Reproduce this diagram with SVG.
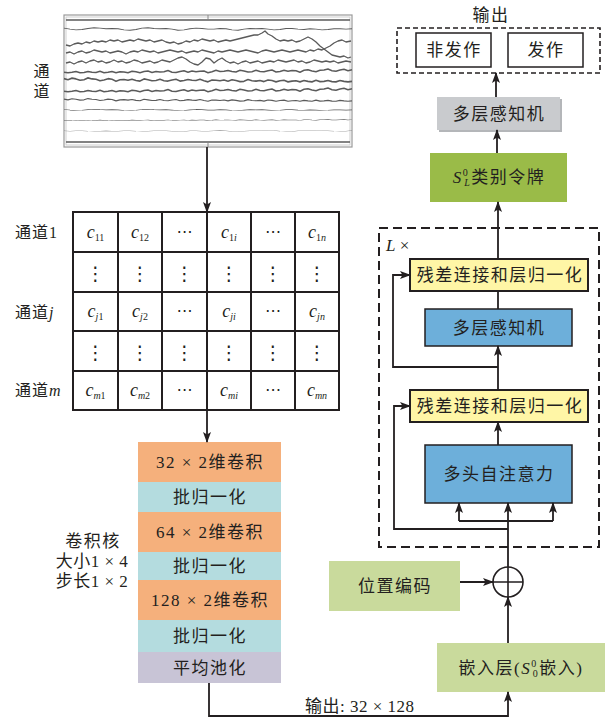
<svg xmlns="http://www.w3.org/2000/svg" xmlns:xlink="http://www.w3.org/1999/xlink" width="609" height="719" viewBox="0 0 609 719">
<defs>
<style>
.t{font-family:"Liberation Serif","Noto Sans CJK SC",serif;font-size:17px;fill:#231f20;letter-spacing:1.5px}
.tm{text-anchor:middle}
.lab{font-family:"Liberation Serif","Noto Sans CJK SC",serif;font-size:16px;fill:#231f20;letter-spacing:1px}
.cell{font-family:"Liberation Serif",serif;font-size:18px;fill:#231f20;text-anchor:middle}
.it{font-style:italic}
.sub{font-size:10px}
.dots{font-family:"DejaVu Sans",sans-serif;font-size:16px;fill:#231f20;text-anchor:middle}
.vd{font-family:"DejaVu Sans",sans-serif;font-size:19px;fill:#231f20;text-anchor:middle}
.ln{fill:none;stroke:#231f20;stroke-width:1.8}
.arr{fill:none;stroke:#231f20;stroke-width:1.8;marker-end:url(#ah)}
.eeg{fill:none;stroke:#5a5a5a;stroke-width:1.3;stroke-linejoin:round;vector-effect:non-scaling-stroke}
.grid{fill:#fff;stroke:#231f20;stroke-width:2}
.conv{fill:#F5B07C}
.bn{fill:#B4DCDF}
.pool{fill:#C8C4D6}
.lg{fill:#C9DA9C}
.res{fill:#FFF6A6;stroke:#231f20;stroke-width:2}
.blue{fill:#6DAFDA;stroke:#231f20;stroke-width:1.5}
.ob{fill:#fff;stroke:#231f20;stroke-width:1.5}
</style>
<marker id="ah" markerUnits="userSpaceOnUse" markerWidth="11" markerHeight="8" refX="10" refY="4" orient="auto">
<path d="M0,0 L11,4 L0,8 L2.5,4 z" fill="#231f20"/>
</marker>
<path id="n1" d="M0,-1 l4,0.8 4,-1.2 4,0.6 4,1 4,-0.4 4,-1.4 4,0.8 4,0.2 4,1.2 4,-0.6 4,-1 4,0.4 4,1.6 4,-1.2 4,-0.2 4,0.6 4,-0.8 4,1 4,0.4 4,-1.6 4,0.6 4,0.8 4,-0.2 4,-1 4,1.2 4,0.2 4,-0.8 4,-0.6 4,1.4 4,-0.4 4,-0.8 4,0.6 4,0.2 4,-1 4,1.2 4,0.8 4,-1.4 4,0.2 4,0.4 4,-0.6 4,1 4,-1.2 4,0.6 4,0.8 4,-0.2 4,-1.4 4,1 4,0.2 4,-0.4 4,0.8 4,-1.2 4,0.4 4,1 4,-0.8 4,-0.4 4,1.2 4,-0.6 4,-0.2 4,0.8 4,-1 4,0.6 4,0.4 4,-1.2 4,1 4,-0.2 4,-0.6 4,0.8 4,0.2 4,-1 4,0.6 4,0.4 4,-0.4"/>
<path id="n2" d="M0,-1.3 l6,1.5 6,1 6,-0.5 6,-1.5 6,-1 6,0.5 6,1 6,-0.5 6,0.5 6,1.5 6,0.5 6,-1 6,-2 6,-0.5 6,1 6,0.5 6,-0.5 6,1 6,1.5 6,-0.5 6,-1.5 6,-1 6,0.5 6,1 6,0 6,-1 6,0.5 6,1.5 6,0.5 6,-1.5 6,-1 6,0.5 6,-0.5 6,1 6,1 6,-0.5 6,-1.5 6,0 6,1 6,0.5 6,-1 6,0.5 6,1 6,-0.5 6,-1 6,0 6,0.5 6,-0.5"/>
</defs>
<rect width="609" height="719" fill="#fff"/>

<g id="eeg">
<rect x="64" y="15" width="288" height="132" fill="#fff" stroke="#9a9a9a" stroke-width="1.2"/>
<rect x="66" y="17" width="284" height="128" fill="none" stroke="#c4c4c4" stroke-width="0.8"/>
<path d="M208,15 V19 M208,143 V147" stroke="#8a8a8a" stroke-width="1"/>
<path class="eeg" d="M66,20 L350,20"/>
<use href="#n2" transform="translate(64,29) scale(1,0.7)" class="eeg"/>
<polyline class="eeg" points="66,45 70,46 74,44 78,43 82,44 86,42 90,43 94,41 98,42 102,41 106,42 110,40 114,41 118,40 122,42 126,41 130,40 134,41 138,39 142,40 146,41 150,40 154,42 158,41 162,40 166,42 170,43 174,42 178,44 182,43 186,41 190,42 194,40 198,41 202,39 206,40 210,41 214,40 218,42 222,41 226,40 230,41 234,40 238,39 242,38 246,37 250,36 254,35 258,35 262,33 265,31 268,34 272,36 276,39 280,41 284,40 288,41 292,40 296,42 300,41 304,39 308,37 312,39 316,42 320,46 324,49 328,52 332,55 336,56 340,57 344,56 348,58 351,57"/>
<polyline class="eeg" points="66,53 70,52 74,54 78,52 82,51 86,53 90,52 94,50 98,51 102,52 106,51 110,53 114,52 118,51 122,52 126,54 130,52 134,51 138,52 142,50 146,51 150,52 154,51 158,53 162,52 166,51 170,50 174,51 178,52 182,51 186,53 190,52 194,51 198,52 202,50 206,51 210,52 214,53 218,51 222,52 226,51 230,50 234,51 238,52 242,51 246,50 250,51 254,52 258,53 262,51 266,50 270,51 274,52 278,51 282,50 286,51 290,52 294,51 298,50 302,51 306,52 310,50 314,51 318,49 322,50 326,48 330,46 334,43 338,41 342,40 346,42 351,41"/>
<polyline class="eeg" points="66,63 70,62 74,64 78,62 82,61 86,63 90,61 94,60 98,62 102,61 106,63 110,62 114,60 118,62 122,61 126,63 130,62 134,60 138,61 142,63 146,62 150,61 154,63 158,62 162,60 166,61 170,62 174,60 178,58 182,57 186,59 190,62 194,64 198,65 202,62 206,58 210,59 214,63 218,60 222,58 226,61 230,63 234,62 238,64 242,62 246,61 250,63 254,62 258,61 262,63 266,62 270,61 274,62 278,60 282,61 286,62 290,61 294,60 298,62 302,61 306,63 310,62 314,60 318,61 322,62 326,61 330,62 334,61 338,63 342,62 346,61 351,62"/>
<use href="#n1" transform="translate(352,71) scale(-1,1.2)" class="eeg"/>
<use href="#n1" transform="translate(64,80) scale(1,1.3)" class="eeg"/>
<use href="#n1" transform="translate(352,90) scale(-1,1.2)" class="eeg"/>
<use href="#n1" transform="translate(64,100) scale(1,0.9)" class="eeg"/>
<use href="#n2" transform="translate(64,110) scale(1,0.45)" class="eeg"/>
<use href="#n1" transform="translate(352,120) scale(-1,0.35)" class="eeg"/>
<use href="#n2" transform="translate(352,131) scale(-1,0.25)" class="eeg"/>
<path class="eeg" d="M66,142 L350,142"/>
</g>
<g id="eeg-label">
<text class="lab tm" x="42" y="77">通</text>
<text class="lab tm" x="42" y="97">道</text>
</g>

<g id="matrix">
<rect class="grid" x="73" y="212" width="266" height="198"/>
<path class="ln" style="stroke-width:2" d="M118,212 V410 M162,212 V410 M207,212 V410 M251,212 V410 M295,212 V410 M73,252 H339 M73,292 H339 M73,331 H339 M73,371 H339"/>
<text class="lab" x="15" y="238">通道1</text>
<text class="lab" x="15" y="318">通道<tspan class="it" font-family="Liberation Serif">j</tspan></text>
<text class="lab" x="15" y="396">通道<tspan class="it" font-family="Liberation Serif">m</tspan></text>
<g id="row1">
<text class="cell" x="95.5" y="238"><tspan class="it">c</tspan><tspan class="sub" dy="3">11</tspan></text>
<text class="cell" x="140" y="238"><tspan class="it">c</tspan><tspan class="sub" dy="3">12</tspan></text>
<text class="dots" x="184.5" y="237">⋯</text>
<text class="cell" x="229" y="238"><tspan class="it">c</tspan><tspan class="sub" dy="3">1</tspan><tspan class="sub it">i</tspan></text>
<text class="dots" x="273" y="237">⋯</text>
<text class="cell" x="317" y="238"><tspan class="it">c</tspan><tspan class="sub" dy="3">1</tspan><tspan class="sub it">n</tspan></text>
</g>
<g id="row2">
<text class="vd" x="95.5" y="280">⋮</text>
<text class="vd" x="140" y="280">⋮</text>
<text class="vd" x="184.5" y="280">⋮</text>
<text class="vd" x="229" y="280">⋮</text>
<text class="vd" x="273" y="280">⋮</text>
<text class="vd" x="317" y="280">⋮</text>
</g>
<g id="row3">
<text class="cell" x="95.5" y="317"><tspan class="it">c</tspan><tspan class="sub it" dy="3">j</tspan><tspan class="sub">1</tspan></text>
<text class="cell" x="140" y="317"><tspan class="it">c</tspan><tspan class="sub it" dy="3">j</tspan><tspan class="sub">2</tspan></text>
<text class="dots" x="184.5" y="316">⋯</text>
<text class="cell" x="229" y="317"><tspan class="it">c</tspan><tspan class="sub it" dy="3">ji</tspan></text>
<text class="dots" x="273" y="316">⋯</text>
<text class="cell" x="317" y="317"><tspan class="it">c</tspan><tspan class="sub it" dy="3">jn</tspan></text>
</g>
<g id="row4">
<text class="vd" x="95.5" y="359">⋮</text>
<text class="vd" x="140" y="359">⋮</text>
<text class="vd" x="184.5" y="359">⋮</text>
<text class="vd" x="229" y="359">⋮</text>
<text class="vd" x="273" y="359">⋮</text>
<text class="vd" x="317" y="359">⋮</text>
</g>
<g id="row5">
<text class="cell" x="95.5" y="396"><tspan class="it">c</tspan><tspan class="sub it" dy="3">m</tspan><tspan class="sub">1</tspan></text>
<text class="cell" x="140" y="396"><tspan class="it">c</tspan><tspan class="sub it" dy="3">m</tspan><tspan class="sub">2</tspan></text>
<text class="dots" x="184.5" y="395">⋯</text>
<text class="cell" x="229" y="396"><tspan class="it">c</tspan><tspan class="sub it" dy="3">mi</tspan></text>
<text class="dots" x="273" y="395">⋯</text>
<text class="cell" x="317" y="396"><tspan class="it">c</tspan><tspan class="sub it" dy="3">mn</tspan></text>
</g>
</g>

<g id="cnn">
<rect class="conv" x="138" y="442" width="143" height="40"/>
<rect class="bn" x="138" y="482" width="143" height="30"/>
<rect class="conv" x="138" y="512" width="143" height="40"/>
<rect class="bn" x="138" y="552" width="143" height="28"/>
<rect class="conv" x="138" y="580" width="143" height="40"/>
<rect class="bn" x="138" y="620" width="143" height="32"/>
<rect class="pool" x="138" y="652" width="143" height="31"/>
<text class="t tm" x="210" y="468">32 × 2维卷积</text>
<text class="t tm" x="210" y="503">批归一化</text>
<text class="t tm" x="210" y="538">64 × 2维卷积</text>
<text class="t tm" x="210" y="572">批归一化</text>
<text class="t tm" x="210" y="606">128 × 2维卷积</text>
<text class="t tm" x="210" y="642">批归一化</text>
<text class="t tm" x="210" y="674">平均池化</text>
</g>
<g id="cnn-label">
<text class="t tm" x="93" y="547">卷积核</text>
<text class="t tm" x="92" y="567" style="letter-spacing:0.5px">大小1 × 4</text>
<text class="t tm" x="92" y="587" style="letter-spacing:0.5px">步长1 × 2</text>
</g>

<g id="embed">
<rect class="lg" x="437" y="643" width="168" height="49"/>
<text class="t tm" x="521" y="674">嵌入层(<tspan class="it">S</tspan><tspan class="sub" dy="-7">0</tspan><tspan class="sub" dx="-5" dy="10">0</tspan><tspan dy="-3">嵌入)</tspan></text>
</g>
<g id="posenc">
<rect class="lg" x="329" y="561" width="131" height="50"/>
<text class="t tm" x="395" y="592">位置编码</text>
</g>
<g id="add">
<circle cx="508" cy="582" r="15" fill="#fff" stroke="#231f20" stroke-width="1.6"/>
<path d="M493,582 H523 M508,567 V597" stroke="#231f20" stroke-width="1.6"/>
</g>
<g id="out-label">
<text class="t" x="305" y="712" style="letter-spacing:0.5px">输出: 32 × 128</text>
</g>

<g id="transformer">
<rect x="379" y="228" width="220" height="319" fill="none" stroke="#231f20" stroke-width="2" stroke-dasharray="9 5"/>
<text x="386" y="251" font-family="Liberation Serif,serif" font-size="17" fill="#231f20"><tspan font-style="italic">L</tspan> ×</text>
</g>
<g id="addnorm1">
<rect class="res" x="410" y="259" width="178" height="32"/>
<text class="t tm" x="500" y="281">残差连接和层归一化</text>
</g>
<g id="mlp">
<rect class="blue" x="425" y="309" width="147" height="37"/>
<text class="t tm" x="499" y="334">多层感知机</text>
</g>
<g id="addnorm2">
<rect class="res" x="410" y="390" width="178" height="32"/>
<text class="t tm" x="500" y="412">残差连接和层归一化</text>
</g>
<g id="mhsa">
<rect class="blue" x="425" y="445" width="147" height="58"/>
<text class="t tm" x="499" y="480">多头自注意力</text>
</g>

<g id="cls">
<rect x="430" y="153" width="137" height="49" fill="#9ABB48"/>
<text class="t tm" x="499" y="183"><tspan class="it">S</tspan><tspan class="sub" dy="-7">0</tspan><tspan class="sub it" dx="-5" dy="10">L</tspan><tspan dy="-3">类别令牌</tspan></text>
</g>
<g id="head">
<rect x="439" y="99" width="123" height="33" fill="#B4B6B9"/>
<rect x="437" y="97" width="123" height="33" fill="#C9CBCE"/>
<text class="t tm" x="499" y="120">多层感知机</text>
</g>
<g id="output">
<text class="t tm" x="491" y="21">输出</text>
<rect x="397" y="28" width="203" height="45" fill="none" stroke="#231f20" stroke-width="1.6" stroke-dasharray="5 3"/>
<rect class="ob" x="416" y="33" width="75" height="34"/>
<text class="t tm" x="454" y="56">非发作</text>
<rect class="ob" x="508" y="33" width="75" height="34"/>
<text class="t tm" x="546" y="56">发作</text>
</g>

<g id="connectors">
<path class="arr" d="M207,147 V212"/>
<path class="arr" d="M207,410 V442"/>
<path class="arr" d="M209,683 V716 H508 V692"/>
<path class="arr" d="M508,643 V597"/>
<path class="arr" d="M460,582 H493"/>
<path class="arr" d="M508,567 V503"/>
<path class="ln" d="M459,521 H553"/>
<path class="arr" d="M459,521 V503"/>
<path class="arr" d="M553,521 V503"/>
<path class="arr" d="M508,529 H394 V406 H410"/>
<path class="arr" d="M498,445 V422"/>
<path class="arr" d="M498,390 V346"/>
<path class="arr" d="M498,367 H393 V275 H410"/>
<path class="ln" d="M498,309 V291"/>
<path class="arr" d="M498,259 V202"/>
<path class="arr" d="M497,153 V130"/>
<path class="arr" d="M496,97 V73"/>
</g>
</svg>
